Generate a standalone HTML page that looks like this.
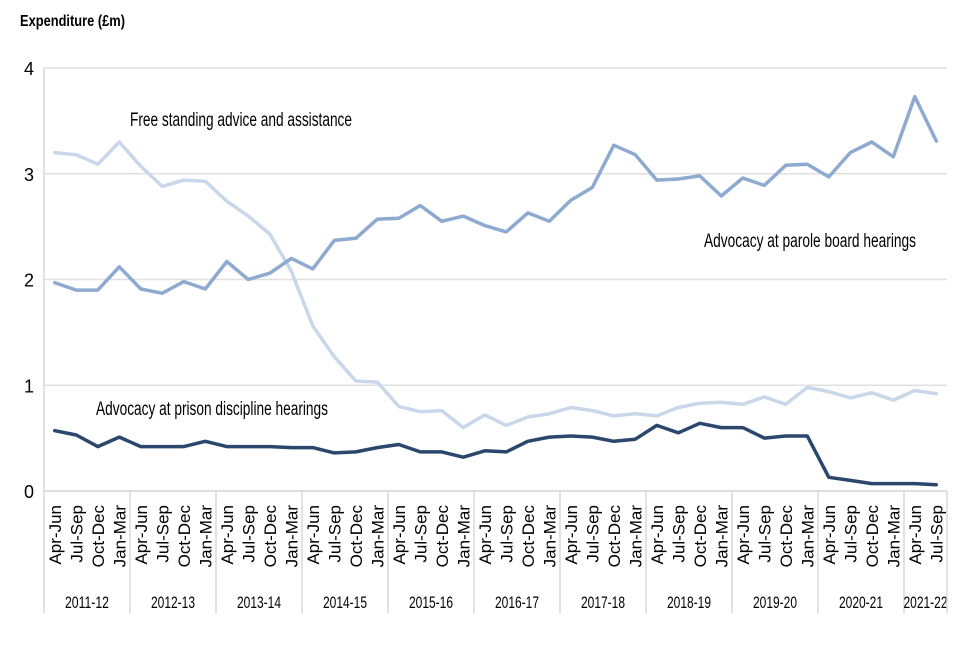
<!DOCTYPE html>
<html><head><meta charset="utf-8"><style>
body{margin:0;background:#fff}
svg text{font-family:"Liberation Sans",sans-serif;fill:#000}
</style></head><body>
<svg id="chart" width="960" height="640" xmlns="http://www.w3.org/2000/svg"></svg>
<script>
const years=["2011-12","2012-13","2013-14","2014-15","2015-16","2016-17","2017-18","2018-19","2019-20","2020-21","2021-22"];
const quarters=["Apr-Jun","Jul-Sep","Oct-Dec","Jan-Mar"];
const yTicks=[0,1,2,3,4];
const freeStanding=[3.2,3.18,3.09,3.3,3.07,2.88,2.94,2.93,2.74,2.6,2.43,2.08,1.56,1.27,1.04,1.03,0.8,0.75,0.76,0.6,0.72,0.62,0.7,0.73,0.79,0.76,0.71,0.73,0.71,0.79,0.83,0.84,0.82,0.89,0.82,0.98,0.94,0.88,0.93,0.86,0.95,0.92];
const parole=[1.97,1.9,1.9,2.12,1.91,1.87,1.98,1.91,2.17,2.0,2.06,2.2,2.1,2.37,2.39,2.57,2.58,2.7,2.55,2.6,2.51,2.45,2.63,2.55,2.75,2.87,3.27,3.18,2.94,2.95,2.98,2.79,2.96,2.89,3.08,3.09,2.97,3.2,3.3,3.16,3.73,3.31];
const prison=[0.57,0.53,0.42,0.51,0.42,0.42,0.42,0.47,0.42,0.42,0.42,0.41,0.41,0.36,0.37,0.41,0.44,0.37,0.37,0.32,0.38,0.37,0.47,0.51,0.52,0.51,0.47,0.49,0.62,0.55,0.64,0.6,0.6,0.5,0.52,0.52,0.13,0.1,0.07,0.07,0.07,0.06];
const seriesNames=["Free standing advice and assistance","Advocacy at parole board hearings","Advocacy at prison discipline hearings"];

const svg=document.getElementById('chart');
const NS="http://www.w3.org/2000/svg";
const X0=44,X1=947,Y0=491,Y1=68,N=freeStanding.length,STEP=(X1-X0)/N;
const xs=i=>X0+STEP*(i+0.5);
const ys=v=>Y0-(Y0-Y1)*v/4;
function mk(tag,attrs,txt){const e=document.createElementNS(NS,tag);for(const k in attrs)e.setAttribute(k,attrs[k]);if(txt!==undefined)e.textContent=txt;svg.appendChild(e);return e;}

let t=mk('text',{x:20,y:26,'font-size':16,'font-weight':'bold',textLength:105,lengthAdjust:'spacingAndGlyphs'},'Expenditure (£m)');



yTicks.forEach(v=>{
  const l=mk('line',{x1:X0,x2:X1,y1:ys(v),y2:ys(v),stroke:'#e0e0e0','stroke-width':1.5});
  
  
  const tx=mk('text',{x:34,y:ys(v)+7,'font-size':18,'text-anchor':'end'},String(v));
  
  
});
let ax=mk('line',{x1:X0,x2:X0,y1:Y1,y2:Y0,stroke:'#d9d9d9','stroke-width':1.5});



for(let i=0;i<N;i++){
  const q=quarters[i%4];
  const tx=mk('text',{x:0,y:0,'font-size':17,'text-anchor':'end',transform:`translate(${xs(i)+6},505) rotate(-90)`},q);
  
  
}
years.forEach((y,k)=>{
  const xa=X0+k*4*STEP, xb=Math.min(X0+(k+1)*4*STEP,X1);
  const sep=mk('line',{x1:xa,x2:xa,y1:Y0,y2:613,stroke:'#d9d9d9','stroke-width':1.5});
  
  
  const tx=mk('text',{x:(xa+xb)/2,y:608,'font-size':17,'text-anchor':'middle',textLength:44,lengthAdjust:'spacingAndGlyphs'},y);
  
  
});
let sepEnd=mk('line',{x1:X1,x2:X1,y1:Y0,y2:613,stroke:'#d9d9d9','stroke-width':1.5});


let xl=mk('line',{x1:X0,x2:X1,y1:Y0,y2:Y0,stroke:'#d9d9d9','stroke-width':1.5});



function line(data,color,name){
  const p=mk('polyline',{points:data.map((v,i)=>xs(i).toFixed(1)+','+ys(v).toFixed(1)).join(' '),fill:'none',stroke:color,'stroke-width':3.5,'stroke-linejoin':'round','stroke-linecap':'round'});
  
  
}
line(freeStanding,'#c9d7ea','free-standing-line');
line(parole,'#8eaad0','parole-board-line');
line(prison,'#2b476d','prison-discipline-line');

let a1=mk('text',{x:130,y:126,'font-size':19,textLength:222,lengthAdjust:'spacingAndGlyphs'},seriesNames[0]);


let a2=mk('text',{x:704,y:247,'font-size':19,textLength:212,lengthAdjust:'spacingAndGlyphs'},seriesNames[1]);


let a3=mk('text',{x:96,y:415,'font-size':19,textLength:232,lengthAdjust:'spacingAndGlyphs'},seriesNames[2]);


</script>
</body></html>
